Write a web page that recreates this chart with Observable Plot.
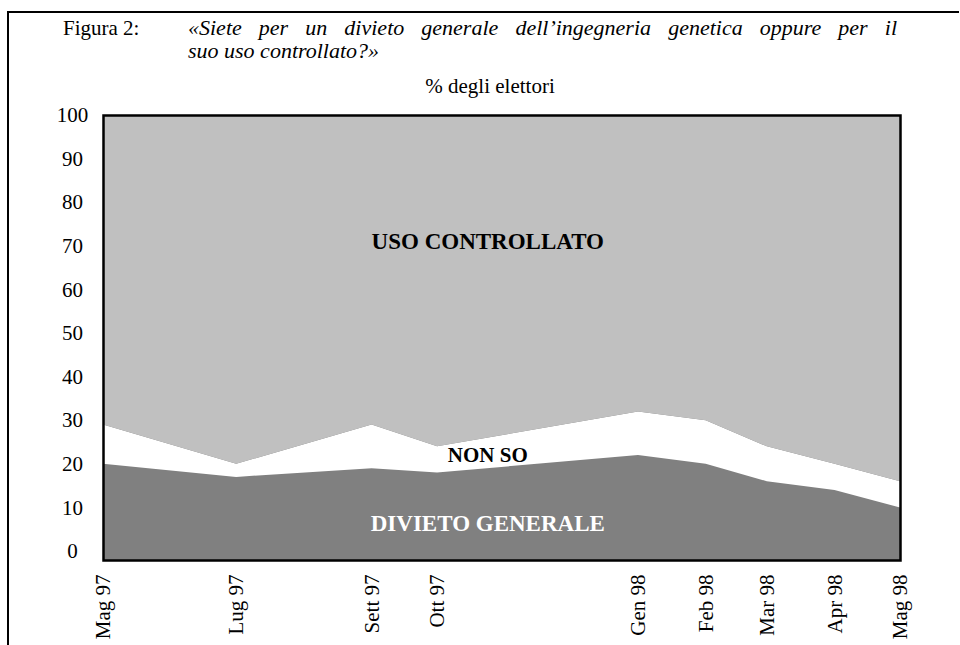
<!DOCTYPE html>
<html>
<head>
<meta charset="utf-8">
<script src="https://cdn.jsdelivr.net/npm/d3@7"></script>
<script src="https://cdn.jsdelivr.net/npm/@observablehq/plot@0.6"></script>
<style>
  html, body { margin: 0; padding: 0; background: #fff; }
  #page { position: relative; width: 960px; height: 645px; overflow: hidden; font-family: "Liberation Serif", "Times New Roman", serif; color: #000; }
  #border { position: absolute; left: 7px; top: 11px; width: 950px; height: 640px; border-top: 2px solid #000; border-left: 2px solid #000; }
  .t { position: absolute; font-size: 21px; line-height: 21px; white-space: nowrap; }
  #fig { left: 63px; top: 18px; }
  #q1 { left: 188px; top: 17px; width: 709px; font-size: 22px; font-style: italic; text-align: justify; text-align-last: justify; }
  #q2 { left: 188px; top: 40px; font-size: 22px; font-style: italic; }
  #unit { left: 0; width: 980px; top: 76px; text-align: center; }
  #chart { position: absolute; left: 0; top: 100px; }
</style>
</head>
<body>
<div id="page">
  <div id="border"></div>
  <div class="t" id="fig">Figura 2:</div>
  <div class="t" id="q1">«Siete per un divieto generale dell’ingegneria genetica oppure per il</div>
  <div class="t" id="q2">suo uso controllato?»</div>
  <div class="t" id="unit">% degli elettori</div>
  <div id="chart"></div>
</div>
<script>
// Survey dates and tick labels
const dates = ["1997-05-01","1997-07-01","1997-09-01","1997-10-01","1998-01-01","1998-02-01","1998-03-01","1998-04-01","1998-05-01"];
const dateLabels = ["Mag 97","Lug 97","Sett 97","Ott 97","Gen 98","Feb 98","Mar 98","Apr 98","Mag 98"];
// Series (% of voters)
const series = ["DIVIETO GENERALE", "NON SO", "USO CONTROLLATO"];
const divietoGenerale = [20, 17, 19, 18, 22, 20, 16, 14, 10];
const nonSo = [9, 3, 10, 6, 10, 10, 8, 6, 6];
const usoControllato = [71, 80, 71, 76, 68, 70, 76, 80, 84];
const yTicks = [0, 10, 20, 30, 40, 50, 60, 70, 80, 90, 100];

const seriesValues = [divietoGenerale, nonSo, usoControllato];
const dateObjs = dates.map(d => new Date(d + "T00:00:00Z"));
const table = [];
series.forEach((s, i) => {
  dateObjs.forEach((d, j) => table.push({date: d, series: s, value: seriesValues[i][j]}));
});
const labelOf = new Map(dateObjs.map((d, i) => [+d, dateLabels[i]]));
const labelDate = new Date("1997-10-24T00:00:00Z");

const chart = Plot.plot({
  width: 960,
  height: 545,
  marginTop: 15,
  marginBottom: 85,
  marginLeft: 103,
  marginRight: 60,
  style: {fontFamily: "Liberation Serif, Times New Roman, serif", fontSize: "21px", background: "transparent"},
  x: {type: "utc", domain: [dateObjs[0], dateObjs[dateObjs.length - 1]]},
  y: {domain: [0, 100], range: [451, 15]},
  color: {domain: series, range: ["#808080", "#ffffff", "#c0c0c0"]},
  marks: [
    Plot.frame({fill: "#808080"}),
    Plot.areaY(table, {x: "date", y: "value", fill: "series", order: series}),
    Plot.frame({stroke: "#000", strokeWidth: 2.5}),
    Plot.axisY({ticks: yTicks, tickSize: 0, tickPadding: 31, textAnchor: "middle", fontSize: 21, label: null}),
    Plot.axisX({ticks: dateObjs, tickFormat: d => labelOf.get(+d), tickRotate: -90, tickSize: 0, tickPadding: 14, fontSize: 21, label: null}),
    Plot.text(["USO CONTROLLATO"], {x: [labelDate], y: [71], text: d => d, fontWeight: "bold", fontSize: 23, fill: "#000"}),
    Plot.text(["NON SO"], {x: [labelDate], y: [22], text: d => d, fontWeight: "bold", fontSize: 21, fill: "#000"}),
    Plot.text(["DIVIETO GENERALE"], {x: [labelDate], y: [6.5], text: d => d, fontWeight: "bold", fontSize: 23, fill: "#fff"})
  ]
});
document.getElementById("chart").appendChild(chart);
</script>
</body>
</html>
